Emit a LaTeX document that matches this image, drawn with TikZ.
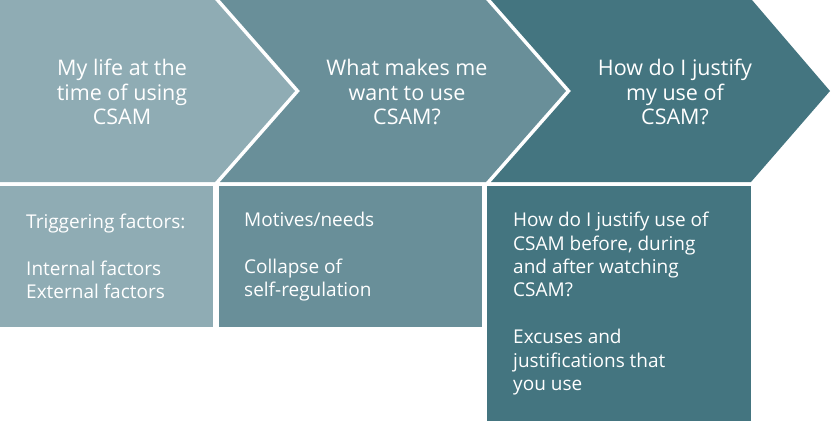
\documentclass[tikz,border=0pt]{standalone}
\usepackage{fontspec}
\setmainfont{Open Sans}
\usetikzlibrary{positioning}
\definecolor{TealClaro}{HTML}{8FACB4}
\definecolor{TealMedio}{HTML}{698F99}
\definecolor{TealEscuro}{HTML}{447580}
\definecolor{Branco}{HTML}{FFFFFF}

\begin{document}
\begin{tikzpicture}[
                x=1pt, y=-1pt,
                every node/.style={text=Branco},
                heading/.style={align=center, font=\fontsize{21.5}{24.8}\selectfont},
                panel/.style={anchor=north west, inner sep=0pt, minimum height=141pt},
                paneltext/.style={align=left, inner sep=0pt, font=\fontsize{19}{23.4}\selectfont}
            ]
                \useasboundingbox (0,0) rectangle (831,421);

                % chevrons
                \fill[TealClaro] (0,0) -- (215,0) -- (295,91) -- (215,182) -- (0,182) -- cycle;
                \fill[TealMedio] (220,0) -- (486,0) -- (566,91) -- (486,182) -- (220,182) -- (300,91) -- cycle;
                \fill[TealEscuro] (491,0) -- (752,0) -- (830,91) -- (751,182) -- (491,182) -- (571,91) -- cycle;

                \node[heading] (life) at (122,92) {My life at the\\time of using\\CSAM};
                \node[heading] (motives) at (407,92) {What makes me\\want to use\\CSAM?};
                \node[heading] (justify) at (675,92) {How do I justify\\my use of\\CSAM?};

                % panels
                \node[panel, fill=TealClaro, minimum width=213pt] (triggers) at (0,186) {};
                \node[panel, fill=TealMedio, minimum width=263pt] (needs) at (219,186) {};
                \node[panel, fill=TealEscuro, minimum width=264pt, minimum height=235pt] (excuses) at (487,186) {};

                \node[paneltext, right=26pt of triggers.west] (triggerslist) {
                    Triggering factors:\\[23.4pt]
                    Internal factors\\
                    External factors
                };

                \node[paneltext, right=25pt of needs.west] (needslist) {
                    Motives/needs\\[23.4pt]
                    Collapse of\\
                    self-regulation
                };

                \node[paneltext, right=26pt of excuses.west] (excuseslist) {
                    How do I justify use of\\
                    CSAM before, during\\
                    and after watching\\
                    CSAM?\\[23.4pt]
                    Excuses and\\
                    justifications that\\
                    you use
                };

            \end{tikzpicture}
\end{document}
